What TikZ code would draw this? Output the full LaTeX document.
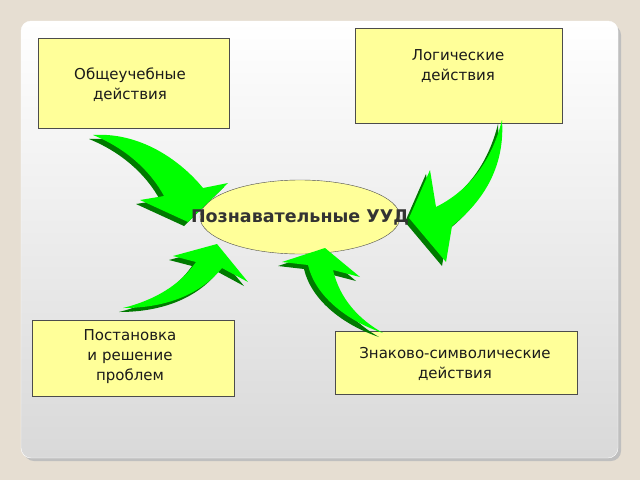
\documentclass[tikz,border=0pt]{standalone}
\usepackage{fontspec}
\setmainfont{DejaVu Sans}
\usetikzlibrary{shapes.geometric}
\definecolor{bgc}{HTML}{E6DED2}
\definecolor{boxc}{HTML}{FFFF99}
\definecolor{gr}{HTML}{00FF00}
\definecolor{dgr}{HTML}{007A00}
\definecolor{txt}{HTML}{1A1A1A}
\tikzset{
 box/.style={draw=black!70, fill=boxc, align=center, font=\fontsize{15}{20}\selectfont, text=txt, inner sep=0pt},
 boxtext/.style={align=center, font=\fontsize{15}{20}\selectfont, text=txt},
 arrowfill/.style={fill=gr},
 arrowside/.style={fill=dgr}
}
\newcommand{\bentarrow}[1]{%
 \fill[arrowside, shift={(-4pt,-4pt)}] #1;
 \fill[arrowfill] #1;}
\begin{document}
\begin{tikzpicture}[x=1pt,y=-1pt]
\useasboundingbox (0,0) rectangle (640,480);
\fill[bgc] (0,0) rectangle (640,480);
\fill[black!25, rounded corners=10pt] (24,25) rectangle (621,461);
\shade[top color=white, bottom color=black!15, rounded corners=10pt, draw=white] (21,21) rectangle (618,458);
% boxes
\node[box, minimum width=191pt, minimum height=90pt] (ob) at (133.5,83) {};
\node[boxtext] (obt) at (130,85) {Общеучебные\\действия};
\node[box, minimum width=207pt, minimum height=95pt] (lo) at (458.5,75.5) {};
\node[boxtext] (lot) at (458,66) {Логические\\действия};
\node[box, minimum width=202pt, minimum height=76pt] (po) at (133,358) {};
\node[boxtext] (pot) at (130,357) {Постановка\\и решение\\проблем};
\node[box, minimum width=242pt, minimum height=63pt] (zn) at (456,362.5) {};
\node[boxtext] (znt) at (455,364) {Знаково-символические\\действия};
\node[ellipse, draw=black!70, fill=boxc, minimum width=200pt, minimum height=74pt] (ce) at (300,217) {};
% arrows
\bentarrow{(93,135) .. controls (140,132) and (180,160) .. (203,188) -- (228,183) -- (188,222) -- (140,200) -- (164,196) .. controls (150,170) and (125,148) .. (93,135) -- cycle}
\bentarrow{(502,120) .. controls (505,165) and (485,200) .. (452,226) -- (446,262) -- (409,218) -- (430,170) -- (436,207) .. controls (470,190) and (492,160) .. (502,120) -- cycle}
\bentarrow{(123,308) .. controls (165,308) and (200,295) .. (222,268) -- (248,282) -- (217,244) -- (173,256) -- (196,262) .. controls (180,285) and (155,300) .. (123,308) -- cycle}
\bentarrow{(383,333) .. controls (360,320) and (340,300) .. (333,270) -- (360,277) -- (325,248) -- (282,262) -- (308,265) .. controls (315,295) and (345,320) .. (383,333) -- cycle}
\node[font=\bfseries\fontsize{17.5}{20}\selectfont, text=black!80] (lab) at (ce) {Познавательные УУД};
\end{tikzpicture}
\end{document}
